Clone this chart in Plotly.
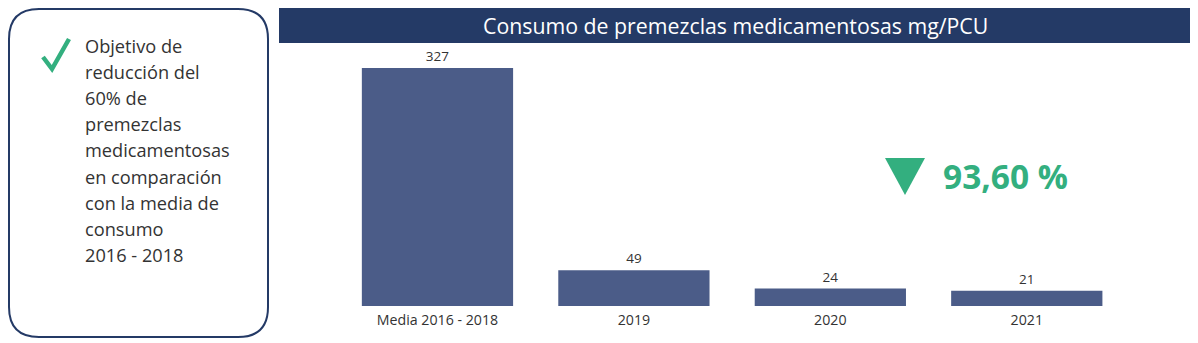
import plotly.graph_objects as go

W, H = 1198, 343

categories = ["Media 2016 - 2018", "2019", "2020", "2021"]
values = [327, 49, 24, 21]
value_labels = ["327", "49", "24", "21"]
title_text = "Consumo de premezclas medicamentosas mg/PCU"
kpi_text = "93,60 %"
box_lines = ["Objetivo de", "reducción del", "60% de", "premezclas", "medicamentosas",
             "en comparación", "con la media de", "consumo", "2016 - 2018"]

BAR = "#4B5C88"
NAVY = "#243A66"
GREEN = "#33AF7F"
TXT = "#333333"


def px(x):
    return x / W


def py(y):
    return 1 - y / H


fig = go.Figure()
fig.add_trace(go.Bar(
    x=categories, y=values, text=value_labels, textposition="outside",
    marker=dict(color=BAR, line=dict(width=0)),
    textfont=dict(family="Open Sans", size=13.5, color=TXT),
    cliponaxis=False, hoverinfo="skip",
))

# rounded box path (pixel -> paper)
x0, y0, x1, y1, r = 9, 9, 268, 337, 30
pts = [
    f"M {px(x0 + r)},{py(y0)}",
    f"L {px(x1 - r)},{py(y0)}",
    f"Q {px(x1)},{py(y0)} {px(x1)},{py(y0 + r)}",
    f"L {px(x1)},{py(y1 - r)}",
    f"Q {px(x1)},{py(y1)} {px(x1 - r)},{py(y1)}",
    f"L {px(x0 + r)},{py(y1)}",
    f"Q {px(x0)},{py(y1)} {px(x0)},{py(y1 - r)}",
    f"L {px(x0)},{py(y0 + r)}",
    f"Q {px(x0)},{py(y0)} {px(x0 + r)},{py(y0)}",
    "Z",
]
shapes = [
    dict(type="path", xref="paper", yref="paper", path=" ".join(pts),
         line=dict(color=NAVY, width=2), fillcolor="white"),
    # title bar
    dict(type="rect", xref="paper", yref="paper", x0=px(279), x1=px(1190), y0=py(43), y1=py(8),
         fillcolor=NAVY, line=dict(width=0)),
    # checkmark
    dict(type="path", xref="paper", yref="paper",
         path=f"M {px(43)},{py(57)} L {px(52)},{py(69)} L {px(69)},{py(39)}",
         line=dict(color=GREEN, width=4.5)),
    # down triangle
    dict(type="path", xref="paper", yref="paper",
         path=f"M {px(885)},{py(158)} L {px(925)},{py(158)} L {px(905)},{py(195)} Z",
         fillcolor=GREEN, line=dict(width=0)),
]

annotations = [
    dict(text=title_text, xref="paper", yref="paper", x=px(735.5), y=py(25),
         xanchor="center", yanchor="middle", showarrow=False,
         font=dict(family="Open Sans", size=21.3, color="white")),
    dict(text=f"<b>{kpi_text}</b>", xref="paper", yref="paper", x=px(941), y=py(176),
         xanchor="left", yanchor="middle", showarrow=False,
         font=dict(family="Open Sans", size=33.5, color=GREEN)),
]
for i, line in enumerate(box_lines):
    annotations.append(dict(text=line, xref="paper", yref="paper", x=px(83), y=py(46 + 26.1 * i),
                            xanchor="left", yanchor="middle", showarrow=False,
                            font=dict(family="Open Sans", size=18.2, color=TXT)))

fig.update_layout(
    width=W, height=H, margin=dict(l=0, r=0, t=0, b=0),
    paper_bgcolor="white", plot_bgcolor="white",
    showlegend=False, bargap=0.23,
    xaxis=dict(domain=[px(339.25), px(1125)], showgrid=False, zeroline=False, showline=False,
               ticks="", ticklabelstandoff=4,
               tickfont=dict(family="Open Sans", size=14.2, color=TXT)),
    yaxis=dict(domain=[py(306), py(60)], range=[0, 338], visible=False),
    shapes=shapes, annotations=annotations,
)

fig.write_html("out.html")
